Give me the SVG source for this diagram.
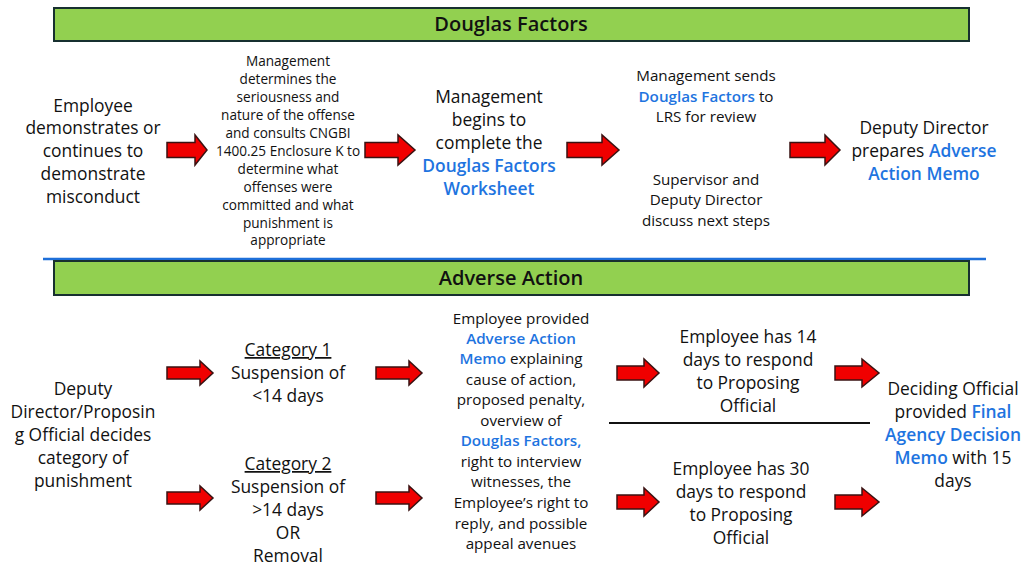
<svg xmlns="http://www.w3.org/2000/svg" width="1024" height="576" viewBox="0 0 1024 576">
<style>
text{font-family:"Open Sans","Noto Sans","Liberation Sans",sans-serif;fill:#111;text-anchor:middle}
.banner{fill:#92D050;stroke:#173030;stroke-width:2}
.title{font-size:20px;font-weight:600}
.t17{font-size:17.4px}
.t14{font-size:15.2px}
.t13{font-size:13.6px}
.b{fill:#1E74E0;font-weight:600}
.arr{fill:#F00000;stroke:#3a1212;stroke-width:1.5;stroke-linejoin:miter}
</style>
<rect width="1024" height="576" fill="#fff"/>
<g id="banner-douglas">
<rect class="banner" x="54" y="8" width="915" height="33"/>
<text class="title" x="511" y="31">Douglas Factors</text>
</g>
<line x1="43" y1="259" x2="986" y2="259" stroke="#1E6FD9" stroke-width="2.5"/>
<g id="banner-adverse">
<rect class="banner" x="54" y="261" width="915" height="34"/>
<text class="title" x="511" y="285">Adverse Action</text>
</g>
<g id="n-misconduct" class="t17">
<text x="93" y="112">Employee</text>
<text x="93" y="134">demonstrates or</text>
<text x="93" y="157">continues to</text>
<text x="93" y="180">demonstrate</text>
<text x="93" y="203">misconduct</text>
</g>
<g id="n-determines" class="t13">
<text x="288" y="66">Management</text>
<text x="288" y="84">determines the</text>
<text x="288" y="102">seriousness and</text>
<text x="288" y="120">nature of the offense</text>
<text x="288" y="138">and consults CNGBI</text>
<text x="288" y="156">1400.25 Enclosure K to</text>
<text x="288" y="174">determine what</text>
<text x="288" y="192">offenses were</text>
<text x="288" y="210">committed and what</text>
<text x="288" y="228">punishment is</text>
<text x="288" y="245">appropriate</text>
</g>
<g id="n-worksheet" class="t17">
<text x="489" y="103">Management</text>
<text x="489" y="126">begins to</text>
<text x="489" y="149">complete the</text>
<text x="489" y="172" class="b">Douglas Factors</text>
<text x="489" y="195" class="b">Worksheet</text>
</g>
<g id="n-lrs" class="t14">
<text x="706" y="81">Management sends</text>
<text x="706" y="102"><tspan class="b">Douglas Factors</tspan> to</text>
<text x="706" y="122">LRS for review</text>
</g>
<g id="n-discuss" class="t14">
<text x="706" y="185">Supervisor and</text>
<text x="706" y="205">Deputy Director</text>
<text x="706" y="226">discuss next steps</text>
</g>
<g id="n-prepares" class="t17">
<text x="924" y="134">Deputy Director</text>
<text x="924" y="157">prepares <tspan class="b">Adverse</tspan></text>
<text x="924" y="180" class="b">Action Memo</text>
</g>
<g id="n-decides" class="t17">
<text x="83" y="395">Deputy</text>
<text x="83" y="418">Director/Proposin</text>
<text x="83" y="441">g Official decides</text>
<text x="83" y="464">category of</text>
<text x="83" y="487">punishment</text>
</g>
<g id="n-cat1" class="t17">
<text x="288" y="356" text-decoration="underline">Category 1</text>
<text x="288" y="379">Suspension of</text>
<text x="288" y="402">&lt;14 days</text>
</g>
<g id="n-cat2" class="t17">
<text x="288" y="470" text-decoration="underline">Category 2</text>
<text x="288" y="493">Suspension of</text>
<text x="288" y="516">&gt;14 days</text>
<text x="288" y="539">OR</text>
<text x="288" y="562">Removal</text>
</g>
<g id="n-memo" class="t14">
<text x="521" y="324">Employee provided</text>
<text x="521" y="344" class="b">Adverse Action</text>
<text x="521" y="364"><tspan class="b">Memo</tspan> explaining</text>
<text x="521" y="385">cause of action,</text>
<text x="521" y="405">proposed penalty,</text>
<text x="521" y="426">overview of</text>
<text x="521" y="446" class="b">Douglas Factors,</text>
<text x="521" y="467">right to interview</text>
<text x="521" y="487">witnesses, the</text>
<text x="521" y="508">Employee’s right to</text>
<text x="521" y="529">reply, and possible</text>
<text x="521" y="549">appeal avenues</text>
</g>
<g id="n-14days" class="t17">
<text x="748" y="343">Employee has 14</text>
<text x="748" y="366">days to respond</text>
<text x="748" y="389">to Proposing</text>
<text x="748" y="412">Official</text>
</g>
<g id="n-30days" class="t17">
<text x="741" y="475">Employee has 30</text>
<text x="741" y="498">days to respond</text>
<text x="741" y="521">to Proposing</text>
<text x="741" y="544">Official</text>
</g>
<g id="n-final" class="t17">
<text x="953" y="395">Deciding Official</text>
<text x="953" y="418">provided <tspan class="b">Final</tspan></text>
<text x="953" y="441" class="b">Agency Decision</text>
<text x="953" y="464"><tspan class="b">Memo</tspan> with 15</text>
<text x="953" y="487">days</text>
</g>
<g id="connectors">
<polygon class="arr" points="167,142.5 195,142.5 195,135 207,150 195,165 195,157.5 167,157.5"/>
<polygon class="arr" points="365,142.5 398,142.5 398,135 415,150 398,165 398,157.5 365,157.5"/>
<polygon class="arr" points="567,142.5 602,142.5 602,135 619,150 602,165 602,157.5 567,157.5"/>
<polygon class="arr" points="790,142.5 825,142.5 825,135 840,150 825,165 825,157.5 790,157.5"/>
<polygon class="arr" points="167,367 200,367 200,361 213,373 200,385 200,379 167,379"/>
<polygon class="arr" points="167,492 200,492 200,486 213,498 200,510 200,504 167,504"/>
<polygon class="arr" points="376,367 409,367 409,361 422,373 409,385 409,379 376,379"/>
<polygon class="arr" points="376,492 409,492 409,486 422,498 409,510 409,504 376,504"/>
<polygon class="arr" points="617,366 644,366 644,359 659,373 644,387 644,380 617,380"/>
<polygon class="arr" points="617,495 644,495 644,488 659,502 644,516 644,509 617,509"/>
<polygon class="arr" points="835,366 862,366 862,359 879,373 862,387 862,380 835,380"/>
<polygon class="arr" points="835,495 862,495 862,488 879,502 862,516 862,509 835,509"/>
<line x1="609" y1="423" x2="870" y2="423" stroke="#111" stroke-width="2"/>
</g>
</svg>
